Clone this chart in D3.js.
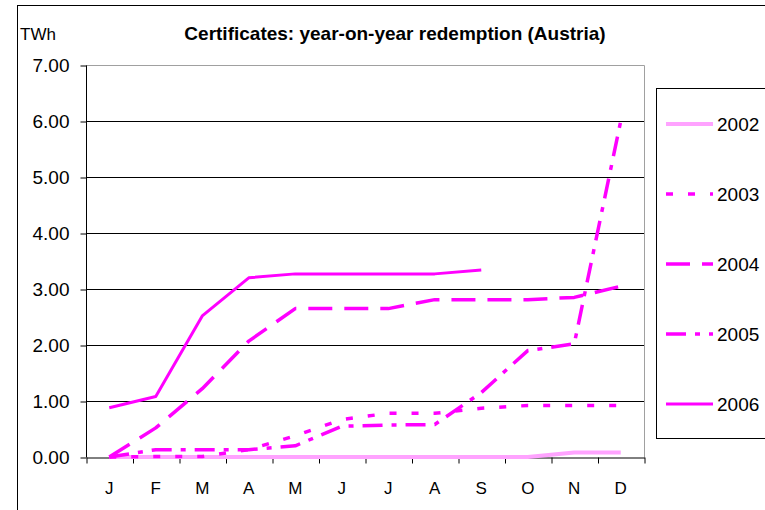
<!DOCTYPE html>
<html>
<head>
<meta charset="utf-8">
<script src="https://cdn.jsdelivr.net/npm/d3@7"></script>
<style>
  body { margin: 0; background: #fff; }
  text { font-family: "Liberation Sans", Arial, sans-serif; fill: #000; }
</style>
</head>
<body>
<svg id="chart" width="765" height="510"></svg>
<script>
// data
var months = ["J", "F", "M", "A", "M", "J", "J", "A", "S", "O", "N", "D"];
var yTicks = [0, 1, 2, 3, 4, 5, 6, 7];
var years = ["2002", "2003", "2004", "2005", "2006"];
var v2002 = [0, 0, 0, 0, 0, 0, 0, 0, 0, 0, 0.08, 0.08];
var v2003 = [0, 0.01, 0.01, 0.13, 0.38, 0.67, 0.78, 0.78, 0.87, 0.92, 0.92, 0.92];
var v2004 = [0, 0.52, 1.22, 2.07, 2.65, 2.65, 2.65, 2.81, 2.81, 2.81, 2.85, 3.05];
var v2005 = [0, 0.13, 0.13, 0.13, 0.2, 0.55, 0.57, 0.58, 1.15, 1.9, 2.02, 6.0];
var v2006 = [0.88, 1.08, 2.52, 3.2, 3.27, 3.27, 3.27, 3.27, 3.34];

var settings = {
  plot: { left: 86, right: 644, top: 65, bottom: 457 },
  styles: {
    "2002": { color: "#ffa3ff", width: 4, dash: null },
    "2003": { color: "#ff00ff", width: 3.5, dash: "7,15" },
    "2004": { color: "#ff00ff", width: 3.5, dash: "24,12" },
    "2005": { color: "#ff00ff", width: 3.5, dash: "20,9,5,9" },
    "2006": { color: "#ff00ff", width: 3, dash: null }
  }
};
var series = { "2002": v2002, "2003": v2003, "2004": v2004, "2005": v2005, "2006": v2006 };
var p = settings.plot;

var svg = d3.select("#chart");

// outer frame
svg.append("rect")
  .attr("x", 17.5).attr("y", 5.5)
  .attr("width", 800).attr("height", 600)
  .attr("fill", "none").attr("stroke", "#000");

var xScale = d3.scaleBand()
  .domain(d3.range(months.length))
  .range([p.left, p.right]);
var xEdge = d3.scaleLinear()
  .domain([0, months.length])
  .range([p.left, p.right]);
var yScale = d3.scaleLinear()
  .domain([0, 7])
  .range([p.bottom, p.top]);

// gridlines
svg.append("g").selectAll("line")
  .data(yTicks.slice(1, -1))
  .enter().append("line")
  .attr("x1", p.left).attr("x2", p.right)
  .attr("y1", d => yScale(d) + 0.5).attr("y2", d => yScale(d) + 0.5)
  .attr("stroke", "#000");

// top and right border (grey)
svg.append("path")
  .attr("d", "M" + p.left + "," + (p.top + 0.5) + "H" + (p.right + 0.5) + "V" + p.bottom)
  .attr("fill", "none").attr("stroke", "#a0a0a0");

// y axis
var yAxis = d3.axisLeft(yScale)
  .tickValues(yTicks)
  .tickFormat(d3.format(".2f"))
  .tickSize(6)
  .tickPadding(11);
var gy = svg.append("g")
  .attr("transform", "translate(" + (p.left + 0.5) + ",0.5)")
  .call(yAxis);
gy.select(".domain").attr("stroke", "#000").attr("d", "M0," + p.top + "V" + p.bottom);
gy.selectAll("text").attr("font-size", 19).attr("font-family", null);

// x axis: ticks on category edges, labels centred
var xAxis = d3.axisBottom(xEdge)
  .tickValues(d3.range(months.length + 1))
  .tickFormat("")
  .tickSize(6)
  .tickSizeOuter(0);
var gx = svg.append("g")
  .attr("transform", "translate(0.5," + (p.bottom + 0.5) + ")")
  .call(xAxis);
gx.select(".domain").attr("stroke", "#000");

svg.append("g").selectAll("text")
  .data(months)
  .enter().append("text")
  .attr("x", (d, i) => xScale(i) + xScale.bandwidth() / 2)
  .attr("y", 494)
  .attr("text-anchor", "middle")
  .attr("font-size", 17)
  .text(d => d);

// lines
var line = d3.line()
  .x((d, i) => xScale(i) + xScale.bandwidth() / 2)
  .y(d => yScale(d));

years.forEach(function(yr) {
  var s = settings.styles[yr];
  svg.append("path")
    .datum(series[yr])
    .attr("d", line)
    .attr("fill", "none")
    .attr("stroke", s.color)
    .attr("stroke-width", s.width)
    .attr("stroke-dasharray", s.dash)
    .attr("stroke-linejoin", "round");
});

// titles
svg.append("text")
  .attr("x", 395).attr("y", 40)
  .attr("text-anchor", "middle")
  .attr("font-size", 19)
  .attr("font-weight", "bold")
  .text("Certificates: year-on-year redemption (Austria)");
svg.append("text")
  .attr("x", 20).attr("y", 40)
  .attr("font-size", 17)
  .text("TWh");

// legend
var legend = svg.append("g");
legend.append("rect")
  .attr("x", 656.5).attr("y", 88.5)
  .attr("width", 200).attr("height", 350)
  .attr("fill", "#fff").attr("stroke", "#000");
var legendY = d3.scalePoint()
  .domain(years)
  .range([124, 404]);
var items = legend.selectAll("g.item")
  .data(years)
  .enter().append("g")
  .attr("class", "item")
  .attr("transform", d => "translate(0," + legendY(d) + ")");
items.append("line")
  .attr("x1", 666).attr("x2", 713)
  .attr("stroke", d => settings.styles[d].color)
  .attr("stroke-width", d => settings.styles[d].width)
  .attr("stroke-dasharray", d => settings.styles[d].dash);
items.append("text")
  .attr("x", 717).attr("y", 7)
  .attr("font-size", 19)
  .text(d => d);
</script>
</body>
</html>
